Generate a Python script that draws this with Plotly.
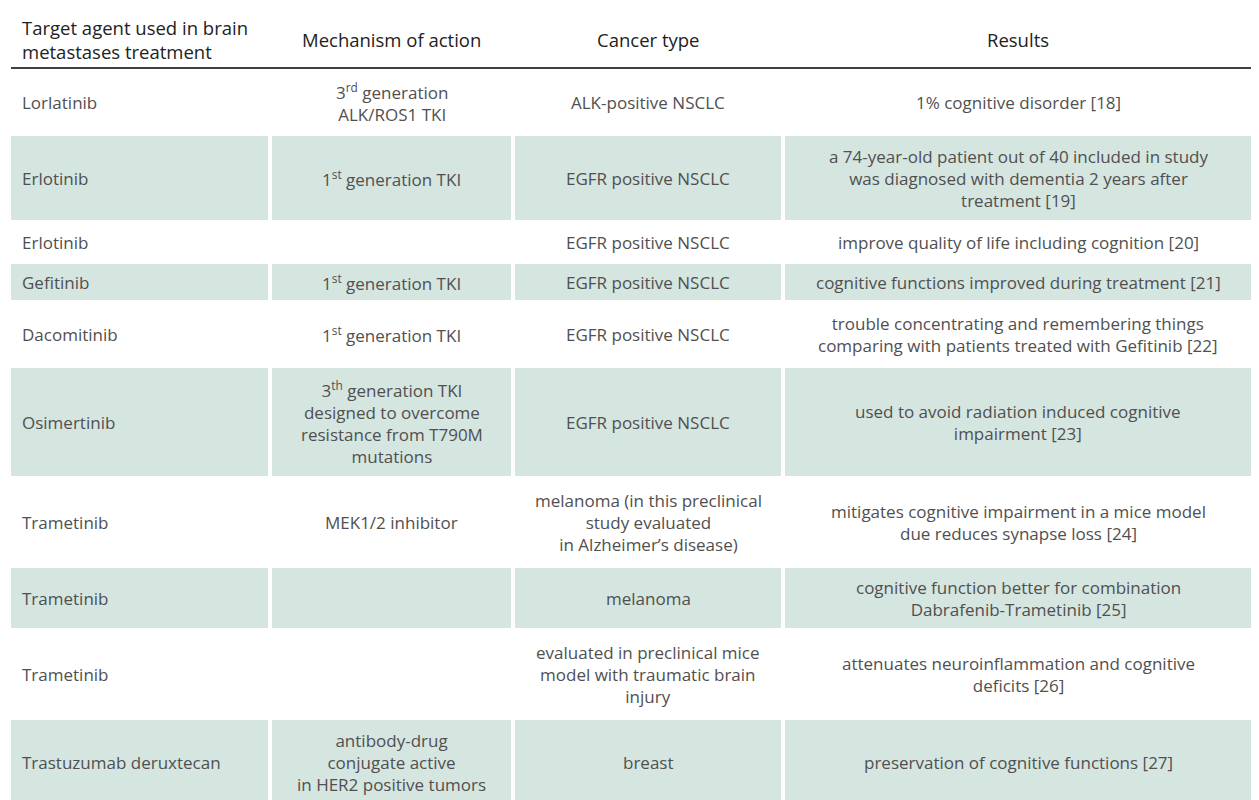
import plotly.graph_objects as go

# Table contents
header = ["Target agent used in brain<br>metastases treatment", "Mechanism of action",
          "Cancer type", "Results"]

agents = ["Lorlatinib", "Erlotinib", "Erlotinib", "Gefitinib", "Dacomitinib", "Osimertinib",
          "Trametinib", "Trametinib", "Trametinib", "Trastuzumab deruxtecan"]

mechanisms = ["3<sup>rd</sup> generation<br>ALK/ROS1 TKI",
              "1<sup>st</sup> generation TKI",
              "",
              "1<sup>st</sup> generation TKI",
              "1<sup>st</sup> generation TKI",
              "3<sup>th</sup> generation TKI<br>designed to overcome<br>resistance from T790M<br>mutations",
              "MEK1/2 inhibitor",
              "",
              "",
              "antibody-drug<br>conjugate active<br>in HER2 positive tumors"]

cancer_types = ["ALK-positive NSCLC", "EGFR positive NSCLC", "EGFR positive NSCLC",
                "EGFR positive NSCLC", "EGFR positive NSCLC", "EGFR positive NSCLC",
                "melanoma (in this preclinical<br>study evaluated<br>in Alzheimer’s disease)",
                "melanoma",
                "evaluated in preclinical mice<br>model with traumatic brain<br>injury",
                "breast"]

results = ["1% cognitive disorder [18]",
           "a 74-year-old patient out of 40 included in study<br>was diagnosed with dementia 2 years after<br>treatment [19]",
           "improve quality of life including cognition [20]",
           "cognitive functions improved during treatment [21]",
           "trouble concentrating and remembering things<br>comparing with patients treated with Gefitinib [22]",
           "used to avoid radiation induced cognitive<br>impairment [23]",
           "mitigates cognitive impairment in a mice model<br>due reduces synapse loss [24]",
           "cognitive function better for combination<br>Dabrafenib-Trametinib [25]",
           "attenuates neuroinflammation and cognitive<br>deficits [26]",
           "preservation of cognitive functions [27]"]

# layout of the grid (pixel units)
col_edges = [0, 262, 505, 775, 1245]
gap = 4
header_h = 61
line_h = 24
pad = 16
shade = "#d5e5e0"
body_font = dict(family="Open Sans", size=17, color="#505050")

columns = [agents, mechanisms, cancer_types, results]

fig = go.Figure()

# header
for c, txt in enumerate(header):
    x0, x1 = col_edges[c], col_edges[c + 1]
    fig.add_annotation(x=(x0 + 12) if c == 0 else (x0 + x1) / 2, y=header_h / 2 + 1, text=txt,
                       showarrow=False, xanchor="left" if c == 0 else "center",
                       align="left" if c == 0 else "center",
                       font=dict(family="Open Sans", size=18.5, color="#222"))
fig.add_shape(type="line", x0=3, x1=col_edges[-1], y0=header_h - 1, y1=header_h - 1,
              line=dict(color="black", width=1.5))

y = header_h + 1
for r in range(len(agents)):
    cells = [col[r] for col in columns]
    n_lines = max(t.count("<br>") + 1 for t in cells)
    h = pad + line_h * n_lines
    for c, txt in enumerate(cells):
        x0, x1 = col_edges[c], col_edges[c + 1]
        if r % 2 == 1:
            fig.add_shape(type="rect", x0=x0 + (gap / 2 if c else 3), x1=x1 - gap / 2,
                          y0=y + gap / 2, y1=y + h - gap / 2, fillcolor=shade, line_width=0,
                          layer="below")
        if txt:
            fig.add_annotation(x=(x0 + 12) if c == 0 else (x0 + x1) / 2, y=y + h / 2, text=txt,
                               showarrow=False, xanchor="left" if c == 0 else "center",
                               align="left" if c == 0 else "center", font=body_font)
    y += h

fig.update_xaxes(range=[0, 1259], visible=False)
fig.update_yaxes(range=[800, 0], visible=False)
fig.update_layout(width=1259, height=800, margin=dict(l=0, r=0, t=0, b=0),
                  paper_bgcolor="white", plot_bgcolor="white", showlegend=False)
fig.write_html("out.html")
